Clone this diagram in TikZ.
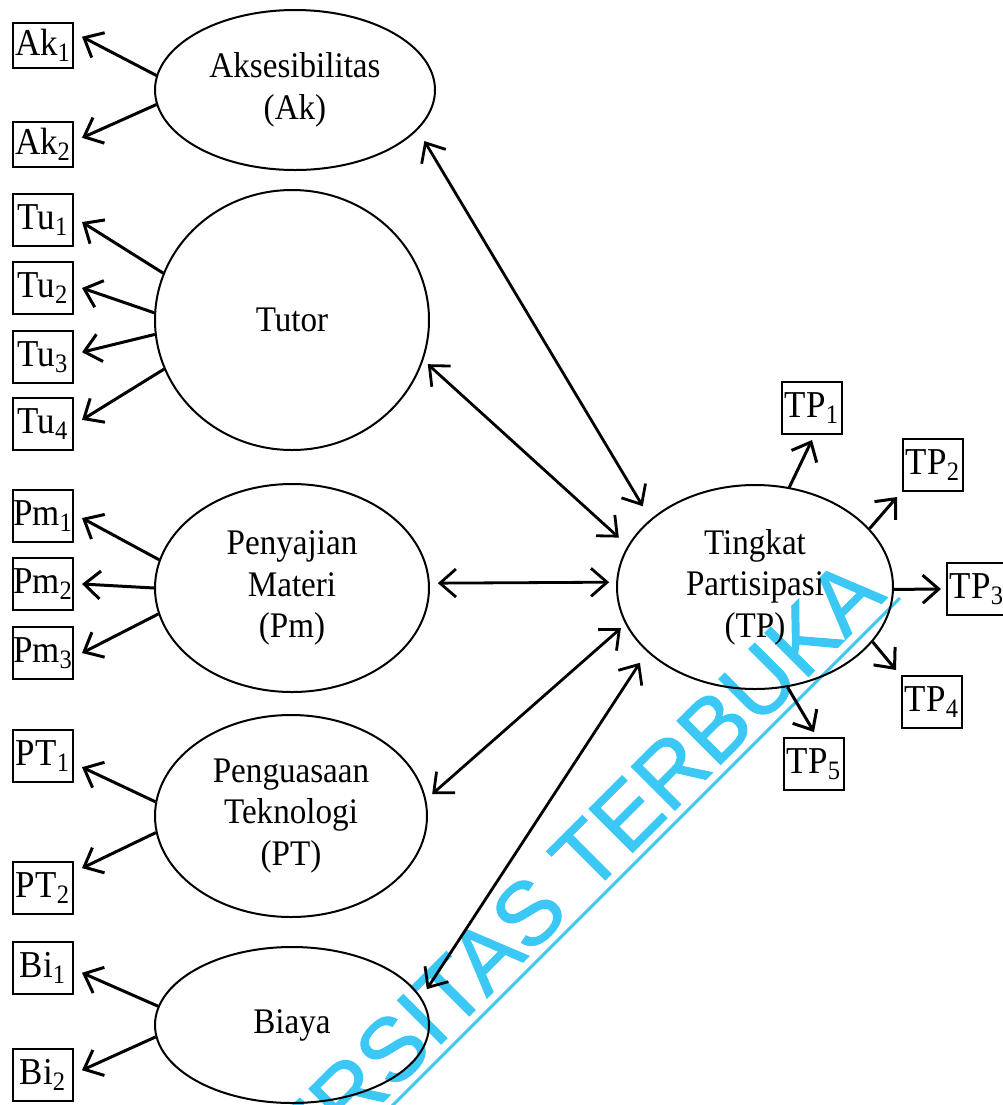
\documentclass[tikz,border=0pt]{standalone}
\usepackage{fontspec}
\setmainfont{Liberation Serif}[FakeStretch=0.92]
\newfontfamily\wmfont{Liberation Sans}[FakeBold=1.2]
\usetikzlibrary{arrows.meta,shapes.geometric}
\definecolor{wmcyan}{RGB}{60,200,245}
\tikzset{
  lat/.style={draw, line width=1pt, ellipse, inner sep=0pt, align=center,
    font=\fontsize{18}{20.75}\selectfont},
  ind/.style={draw, line width=1pt, rectangle, inner sep=0pt, minimum width=30pt,
    minimum height=26pt, outer sep=4.5pt, font=\fontsize{19}{21}\selectfont},
  tpind/.style={ind, outer sep=3pt},
  barb/.tip={Straight Barb[length=8pt,width=14pt]},
  arr/.style={line width=1.5pt, -barb},
  darr/.style={line width=1.4pt, barb-barb},
  wmtext/.style={inner sep=0pt, text=wmcyan, font=\wmfont\fontsize{44.75}{50}\selectfont},
  wmline/.style={draw=wmcyan, line width=1.5pt}
}
\begin{document}
\begin{tikzpicture}[x=0.5pt,y=-0.5pt]
\clip (0,0) rectangle (1003,1105);
\fill[white] (0,0) rectangle (1003,1105);

% watermark
\node[wmtext, anchor=base east, rotate=45] (wm) at (888,597) {UNIVERSITAS TERBUKA};
\coordinate (wmA) at (900,598);
\coordinate (wmB) at (370,1128);
\draw[wmline] (wmA) -- (wmB);

% latent variables
\node[lat, minimum width=140pt, minimum height=80pt] (ak) at (295,90) {Aksesibilitas\\(Ak)};
\node[lat, minimum width=137pt, minimum height=130pt] (tu) at (292,320) {Tutor};
\node[lat, minimum width=137pt, minimum height=104pt] (pm) at (292,588) {Penyajian\\Materi\\(Pm)};
\node[lat, minimum width=136pt, minimum height=101pt] (pt) at (291,816) {Penguasaan\\Teknologi\\(PT)};
\node[lat, minimum width=137pt, minimum height=78pt] (bi) at (292,1025) {Biaya};
\node[lat, minimum width=138pt, minimum height=102pt] (tp) at (755,587) {Tingkat\\Partisipasi\\(TP)};

% indicators
\node[ind, minimum height=22.5pt] (ak1) at (43,45) {Ak\textsubscript{1}};
\node[ind, minimum height=22.5pt] (ak2) at (43,144) {Ak\textsubscript{2}};
\node[ind] (tu1) at (43,220) {Tu\textsubscript{1}};
\node[ind] (tu2) at (43,288) {Tu\textsubscript{2}};
\node[ind] (tu3) at (43,357) {Tu\textsubscript{3}};
\node[ind] (tu4) at (43,424) {Tu\textsubscript{4}};
\node[ind] (pm1) at (43,516) {Pm\textsubscript{1}};
\node[ind] (pm2) at (43,584) {Pm\textsubscript{2}};
\node[ind] (pm3) at (43,653) {Pm\textsubscript{3}};
\node[ind] (pt1) at (43,756) {PT\textsubscript{1}};
\node[ind] (pt2) at (43,888) {PT\textsubscript{2}};
\node[ind] (bi1) at (43,968) {Bi\textsubscript{1}};
\node[ind] (bi2) at (43,1075) {Bi\textsubscript{2}};

\node[tpind] (tp1) at (812,408) {TP\textsubscript{1}};
\node[tpind] (tp2) at (933,465) {TP\textsubscript{2}};
\node[tpind] (tp3) at (977,589) {TP\textsubscript{3}};
\node[tpind] (tp4) at (932,702) {TP\textsubscript{4}};
\node[tpind] (tp5) at (814,764) {TP\textsubscript{5}};

% loadings (left)
\draw[arr] (ak.174) -- (ak1.12);
\draw[arr] (ak.186) -- (ak2.9);
\draw[arr] (tu.160) -- (tu1.-3);
\draw[arr] (tu.177) -- (tu2.east);
\draw[arr] (tu.186) -- (tu3.7);
\draw[arr] (tu.201) -- (tu4.6);
\draw[arr] (pm.168) -- (pm1.-3);
\draw[arr] (pm.180) -- (pm2.east);
\draw[arr] (pm.191) -- (pm3.east);
\draw[arr] (pt.174) -- (pt1.-16);
\draw[arr] (pt.187) -- (pt2.27);
\draw[arr] (bi.172) -- (bi1.-7);
\draw[arr] (bi.185) -- (bi2.7);

% loadings (right)
\draw[arr] (tp.71) -- (tp1.south);
\draw[arr] (tp.27) -- (tp2.south west);
\draw[arr] (tp.-1) -- (tp3.west);
\draw[arr] (tp.-25) -- (tp4.north west);
\draw[arr] (tp.-72) -- (tp5.north);

% correlations
\draw[darr, shorten <=6.5pt, shorten >=7.5pt] (ak.-18) -- (tp.147);
\draw[darr, shorten <=3pt, shorten >=6pt] (tu.-17) -- (tp.162);
\draw[darr, shorten <=4pt, shorten >=3.5pt] (pm.2) -- (tp.178);
\draw[darr, shorten <=4pt, shorten >=3pt] (pt.7) -- (tp.196);
\draw[darr, shorten <=5pt, shorten >=6.5pt] (bi.12) -- (tp.211);
\end{tikzpicture}
\end{document}
